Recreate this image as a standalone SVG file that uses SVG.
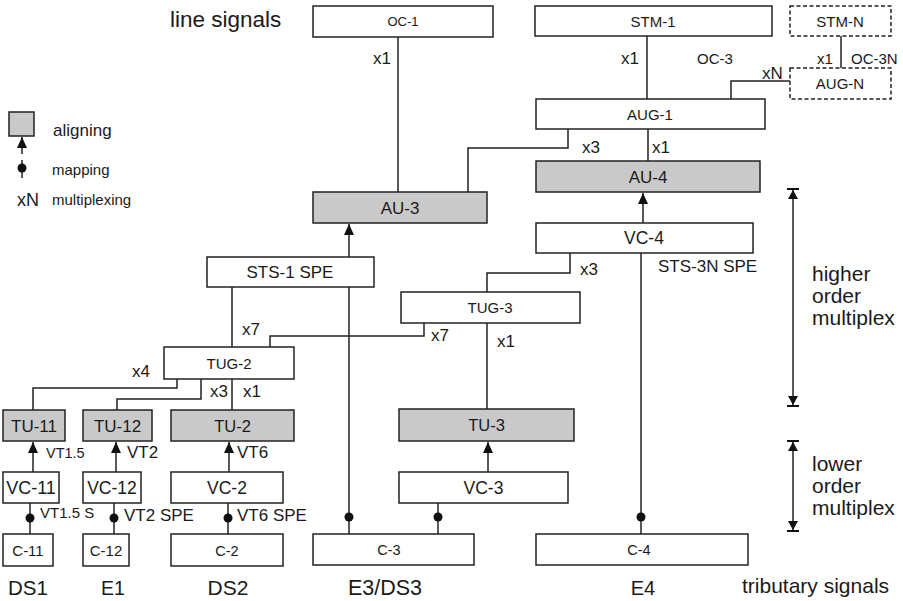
<svg xmlns="http://www.w3.org/2000/svg" width="903" height="601" viewBox="0 0 903 601">
<defs>
<style>
text{font-family:"Liberation Sans",Arial,Helvetica,sans-serif;fill:#1a1a1a}
.b{fill:#fff;stroke:#222;stroke-width:1.5}
.g{fill:#c9c9c9;stroke:#222;stroke-width:1.5}
.d{fill:#fff;stroke:#222;stroke-width:1.5;stroke-dasharray:4 2.5}
.c{fill:none;stroke:#222;stroke-width:1.5}
.m{text-anchor:middle}
.dot{fill:#111}
</style>
<marker id="ah" markerUnits="userSpaceOnUse" markerWidth="12" markerHeight="10" refX="11" refY="5" orient="auto-start-reverse" viewBox="0 0 12 10">
<path d="M0,0 L11,5 L0,10 Z" fill="#111"/>
</marker>
<marker id="dh" markerUnits="userSpaceOnUse" markerWidth="12" markerHeight="14" refX="11" refY="7" orient="auto-start-reverse" viewBox="0 0 12 14">
<path d="M1,2 L10,7 L1,12 Z" fill="#111"/>
<path d="M11,1 L11,13" stroke="#111" stroke-width="2"/>
</marker>
</defs>
<rect width="903" height="601" fill="#fff"/>

<g id="connectors">
<path class="c" d="M398,37 V192"/>
<path class="c" d="M647,36 V99"/>
<path class="c" d="M841,36 V68"/>
<path class="c" d="M790,81 H731 V99"/>
<path class="c" d="M648,129 V161"/>
<path class="c" d="M568,129 V148 H468 V192"/>
<path class="c" d="M643,223 V193" marker-end="url(#ah)"/>
<path class="c" d="M349,257 V224" marker-end="url(#ah)"/>
<path class="c" d="M570,253 V273 H487 V292"/>
<path class="c" d="M641,253 V534"/>
<circle class="dot" cx="641" cy="517" r="4.5"/>
<path class="c" d="M232,287 V347"/>
<path class="c" d="M349,287 V534"/>
<circle class="dot" cx="349" cy="517" r="4.5"/>
<path class="c" d="M424,323 V336 H270 V347"/>
<path class="c" d="M487,323 V409"/>
<path class="c" d="M232,379 V410"/>
<path class="c" d="M201,379 V399 H117 V410"/>
<path class="c" d="M177,379 V388 H33 V410"/>
<path class="c" d="M33,472 V442" marker-end="url(#ah)"/>
<path class="c" d="M116,472 V442" marker-end="url(#ah)"/>
<path class="c" d="M229,472 V442" marker-end="url(#ah)"/>
<path class="c" d="M488,472 V442" marker-end="url(#ah)"/>
<path class="c" d="M30,534 V503"/>
<circle class="dot" cx="30" cy="518" r="4.5"/>
<path class="c" d="M114,534 V503"/>
<circle class="dot" cx="114" cy="518" r="4.5"/>
<path class="c" d="M228,534 V503"/>
<circle class="dot" cx="228" cy="518" r="4.5"/>
<path class="c" d="M438,534 V503"/>
<circle class="dot" cx="438" cy="517" r="4.5"/>
</g>

<g id="labels">
<text x="373" y="64" font-size="17">x1</text>
<text x="621" y="64" font-size="17">x1</text>
<text x="697" y="64" font-size="15">OC-3</text>
<text x="817" y="64" font-size="15">x1</text>
<text x="851" y="64" font-size="15">OC-3N</text>
<text x="762" y="79" font-size="17">xN</text>
<text x="582" y="153" font-size="17">x3</text>
<text x="652" y="153" font-size="17">x1</text>
<text x="580" y="275" font-size="17">x3</text>
<text x="658" y="272" font-size="17">STS-3N SPE</text>
<text x="242" y="335" font-size="17">x7</text>
<text x="431" y="341" font-size="17">x7</text>
<text x="497" y="347" font-size="17">x1</text>
<text x="132" y="377" font-size="17">x4</text>
<text x="210" y="397" font-size="17">x3</text>
<text x="243" y="397" font-size="17">x1</text>
<text x="46" y="458" font-size="14.5">VT1.5</text>
<text x="127" y="458" font-size="17">VT2</text>
<text x="237" y="458" font-size="17">VT6</text>
<text x="40" y="518" font-size="15">VT1.5 S</text>
<text x="124" y="521" font-size="17">VT2 SPE</text>
<text x="237" y="521" font-size="17">VT6 SPE</text>
<text x="170" y="27" font-size="22.5">line signals</text>
<text x="28" y="595" font-size="20.5" class="m">DS1</text>
<text x="113" y="595" font-size="19.5" class="m">E1</text>
<text x="228" y="595" font-size="21" class="m">DS2</text>
<text x="385" y="595" font-size="21.5" class="m">E3/DS3</text>
<text x="643" y="595" font-size="20" class="m">E4</text>
<text x="742" y="593" font-size="21">tributary signals</text>
<text x="812" y="281" font-size="21">higher</text>
<text x="812" y="303" font-size="21">order</text>
<text x="812" y="325" font-size="21">multiplex</text>
<text x="812" y="471" font-size="21">lower</text>
<text x="812" y="493" font-size="21">order</text>
<text x="812" y="515" font-size="21">multiplex</text>
<path class="c" d="M793,189 V406" marker-start="url(#dh)" marker-end="url(#dh)"/>
<path class="c" d="M793,441 V531" marker-start="url(#dh)" marker-end="url(#dh)"/>
</g>

<g id="legend">
<rect class="g" x="9" y="112" width="25" height="24"/>
<path class="c" d="M22,154 V137" marker-end="url(#ah)"/>
<text x="53" y="136" font-size="17">aligning</text>
<path class="c" d="M22,160 V178"/>
<circle class="dot" cx="22" cy="168" r="4.5"/>
<text x="52" y="175" font-size="15">mapping</text>
<text x="17" y="206" font-size="18">xN</text>
<text x="52" y="205" font-size="15">multiplexing</text>
</g>

<g id="OC-1"><rect class="b" x="313" y="6" width="180" height="31"/><text class="m" x="403" y="26" font-size="13">OC-1</text></g>
<g id="STM-1"><rect class="b" x="535" y="6" width="237" height="30"/><text class="m" x="653" y="26.5" font-size="15">STM-1</text></g>
<g id="STM-N"><rect class="d" x="790" y="6" width="101" height="30"/><text class="m" x="840" y="26.5" font-size="15">STM-N</text></g>
<g id="AUG-N"><rect class="d" x="790" y="68" width="101" height="31"/><text class="m" x="840" y="89" font-size="15">AUG-N</text></g>
<g id="AUG-1"><rect class="b" x="536" y="99" width="229" height="30"/><text class="m" x="650" y="119.5" font-size="15">AUG-1</text></g>
<g id="AU-4"><rect class="g" x="536" y="161" width="224" height="31"/><text class="m" x="648" y="182.5" font-size="17">AU-4</text></g>
<g id="AU-3"><rect class="g" x="313" y="192" width="174" height="31"/><text class="m" x="400" y="213.5" font-size="17">AU-3</text></g>
<g id="VC-4"><rect class="b" x="536" y="223" width="217" height="30"/><text class="m" x="644" y="244" font-size="17.5">VC-4</text></g>
<g id="STS-1-SPE"><rect class="b" x="207" y="257" width="167" height="30"/><text class="m" x="290" y="278" font-size="17">STS-1 SPE</text></g>
<g id="TUG-3"><rect class="b" x="401" y="292" width="179" height="31"/><text class="m" x="490" y="312.5" font-size="15">TUG-3</text></g>
<g id="TUG-2"><rect class="b" x="164" y="347" width="130" height="32"/><text class="m" x="229" y="368.5" font-size="15">TUG-2</text></g>
<g id="TU-11"><rect class="g" x="3" y="410" width="62" height="31"/><text class="m" x="34" y="431.5" font-size="17">TU-11</text></g>
<g id="TU-12"><rect class="g" x="83" y="410" width="69" height="31"/><text class="m" x="117.5" y="431.5" font-size="17">TU-12</text></g>
<g id="TU-2"><rect class="g" x="171" y="410" width="123" height="31"/><text class="m" x="232.5" y="431.5" font-size="16.5">TU-2</text></g>
<g id="TU-3"><rect class="g" x="399" y="409" width="175" height="32"/><text class="m" x="486.5" y="431" font-size="16.5">TU-3</text></g>
<g id="VC-11"><rect class="b" x="3" y="472" width="56" height="31"/><text class="m" x="31" y="494" font-size="18">VC-11</text></g>
<g id="VC-12"><rect class="b" x="83" y="472" width="58" height="31"/><text class="m" x="112" y="494" font-size="17.5">VC-12</text></g>
<g id="VC-2"><rect class="b" x="171" y="472" width="112" height="31"/><text class="m" x="227" y="494" font-size="17.5">VC-2</text></g>
<g id="VC-3"><rect class="b" x="399" y="472" width="169" height="31"/><text class="m" x="483.5" y="494" font-size="17.5">VC-3</text></g>
<g id="C-11"><rect class="b" x="3" y="534" width="50" height="32"/><text class="m" x="28" y="555.5" font-size="15">C-11</text></g>
<g id="C-12"><rect class="b" x="83" y="534" width="46" height="32"/><text class="m" x="106" y="555.5" font-size="15">C-12</text></g>
<g id="C-2"><rect class="b" x="171" y="534" width="112" height="32"/><text class="m" x="227" y="555.5" font-size="14.5">C-2</text></g>
<g id="C-3"><rect class="b" x="313" y="534" width="161" height="31"/><text class="m" x="389" y="555" font-size="14.5">C-3</text></g>
<g id="C-4"><rect class="b" x="536" y="534" width="212" height="31"/><text class="m" x="639" y="555" font-size="14.5">C-4</text></g>
</svg>
